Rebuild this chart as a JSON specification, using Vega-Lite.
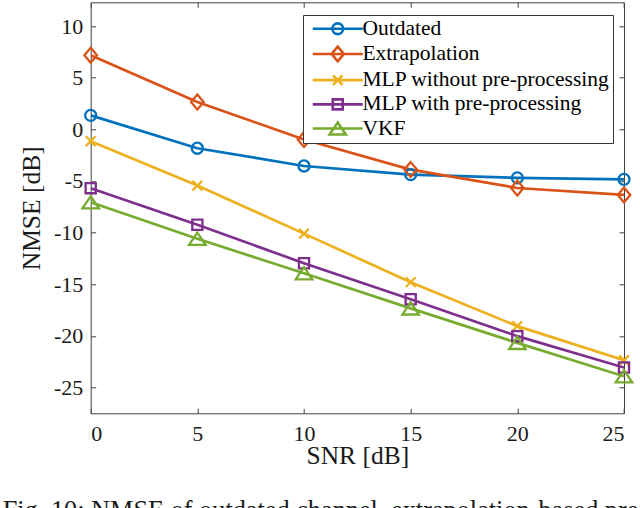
{
  "$schema": "https://vega.github.io/schema/vega-lite/v6.json",
  "autosize": "none",
  "width": 533.3,
  "height": 411,
  "padding": {"left": 90.7, "top": 2.3, "right": 15.999, "bottom": 94.7},
  "background": "white",
  "config": {
    "view": {"stroke": null},
    "font": "Liberation Serif",
    "axis": {"grid": false, "domainColor": "#404040", "tickColor": "#404040", "domainWidth": 1, "tickWidth": 1, "labelColor": "#1a1a1a", "titleColor": "#1a1a1a", "labelFont": "Liberation Serif", "titleFont": "Liberation Serif", "labelFontSize": 22, "titleFontSize": 25.5, "titleFontWeight": "normal"},
    "legend": {"orient": "none", "legendX": 212.3, "legendY": 12.7, "padding": 3, "rowPadding": 1.2, "symbolOffset": 21, "labelOffset": 14, "labelLimit": 500, "labelFontSize": 21.5, "labelFont": "Liberation Serif", "labelColor": "#000000", "strokeColor": "#333333", "fillColor": "white", "symbolSize": 144, "symbolStrokeWidth": 2.6, "symbolOpacity": 1, "symbolFillColor": "transparent"}
  },
  "title": {"text": "Fig. 10: NMSE of outdated channel, extrapolation-based prediction, MLP and VKF", "orient": "bottom", "anchor": "start", "frame": "group", "dx": -88, "offset": 29, "fontSize": 26.3, "fontWeight": "normal", "font": "Liberation Serif", "color": "#1a1a1a"},
  "data": {"values": [
    {"snr": 0, "nmse": 1.35, "method": "Outdated"},
    {"snr": 5, "nmse": -1.83, "method": "Outdated"},
    {"snr": 10, "nmse": -3.55, "method": "Outdated"},
    {"snr": 15, "nmse": -4.38, "method": "Outdated"},
    {"snr": 20, "nmse": -4.7, "method": "Outdated"},
    {"snr": 25, "nmse": -4.85, "method": "Outdated"},
    {"snr": 0, "nmse": 7.18, "method": "Extrapolation"},
    {"snr": 5, "nmse": 2.64, "method": "Extrapolation"},
    {"snr": 10, "nmse": -0.98, "method": "Extrapolation"},
    {"snr": 15, "nmse": -3.9, "method": "Extrapolation"},
    {"snr": 20, "nmse": -5.68, "method": "Extrapolation"},
    {"snr": 25, "nmse": -6.35, "method": "Extrapolation"},
    {"snr": 0, "nmse": -1.15, "method": "MLP without pre-processing"},
    {"snr": 5, "nmse": -5.45, "method": "MLP without pre-processing"},
    {"snr": 10, "nmse": -10.1, "method": "MLP without pre-processing"},
    {"snr": 15, "nmse": -14.8, "method": "MLP without pre-processing"},
    {"snr": 20, "nmse": -19.06, "method": "MLP without pre-processing"},
    {"snr": 25, "nmse": -22.36, "method": "MLP without pre-processing"},
    {"snr": 0, "nmse": -5.7, "method": "MLP with pre-processing"},
    {"snr": 5, "nmse": -9.24, "method": "MLP with pre-processing"},
    {"snr": 10, "nmse": -12.97, "method": "MLP with pre-processing"},
    {"snr": 15, "nmse": -16.46, "method": "MLP with pre-processing"},
    {"snr": 20, "nmse": -20.03, "method": "MLP with pre-processing"},
    {"snr": 25, "nmse": -23.07, "method": "MLP with pre-processing"},
    {"snr": 0, "nmse": -7.07, "method": "VKF"},
    {"snr": 5, "nmse": -10.6, "method": "VKF"},
    {"snr": 10, "nmse": -13.94, "method": "VKF"},
    {"snr": 15, "nmse": -17.34, "method": "VKF"},
    {"snr": 20, "nmse": -20.68, "method": "VKF"},
    {"snr": 25, "nmse": -23.92, "method": "VKF"}
  ]},
  "resolve": {"axis": {"x": "independent", "y": "independent"}},
  "layer": [
    {
      "mark": {"type": "line", "strokeWidth": 2.7, "clip": true},
      "encoding": {
        "x": {"field": "snr", "type": "quantitative", "scale": {"domain": [0, 25], "nice": false, "zero": false},
              "axis": {"orient": "bottom", "title": "SNR [dB]", "values": [0, 5, 10, 15, 20, 25], "tickSize": -5, "labelPadding": 15, "titlePadding": -1, "labelExpr": "toString(datum.value)"}},
        "y": {"field": "nmse", "type": "quantitative", "scale": {"domain": [-27.5, 12.3], "nice": false, "zero": false},
              "axis": {"orient": "left", "title": "NMSE [dB]", "values": [-25, -20, -15, -10, -5, 0, 5, 10], "tickSize": -5, "labelPadding": 13, "titlePadding": 9, "labelExpr": "toString(datum.value)"}},
        "color": {"field": "method", "type": "nominal", "legend": {"title": null, "symbolStrokeWidth": 2.6},
                  "scale": {"domain": ["Outdated", "Extrapolation", "MLP without pre-processing", "MLP with pre-processing", "VKF"],
                            "range": ["#0072BD", "#D95319", "#EDB120", "#7E2F8E", "#77AC30"]}}
      }
    },
    {
      "transform": [{"filter": "datum.method == 'Outdated'"}],
      "mark": {"type": "point", "filled": false, "size": 150, "strokeWidth": 2.3, "opacity": 1, "shape": "M0.9,0A0.9,0.9 0 1,1 -0.9,0A0.9,0.9 0 1,1 0.9,0Z"},
      "encoding": {
        "x": {"field": "snr", "type": "quantitative", "axis": {"orient": "top", "labels": false, "title": null, "values": [0, 5, 10, 15, 20, 25], "tickSize": -5}},
        "y": {"field": "nmse", "type": "quantitative", "axis": {"orient": "right", "labels": false, "title": null, "values": [-25, -20, -15, -10, -5, 0, 5, 10], "tickSize": -5}},
        "color": {"field": "method", "type": "nominal", "legend": {"title": null, "symbolStrokeWidth": 2.6}}
      }
    },
    {
      "transform": [{"filter": "datum.method == 'Extrapolation'"}],
      "mark": {"type": "point", "filled": false, "size": 150, "strokeWidth": 2.3, "opacity": 1, "shape": "M0,-1.22L1.03,0L0,1.22L-1.03,0Z"},
      "encoding": {
        "x": {"field": "snr", "type": "quantitative", "axis": null},
        "y": {"field": "nmse", "type": "quantitative", "axis": null},
        "color": {"field": "method", "type": "nominal", "legend": {"title": null, "symbolStrokeWidth": 2.6}}
      }
    },
    {
      "transform": [{"filter": "datum.method == 'MLP without pre-processing'"}],
      "mark": {"type": "point", "filled": false, "size": 150, "strokeWidth": 2.3, "opacity": 1, "shape": "M-0.8,-0.8L0.8,0.8M0.8,-0.8L-0.8,0.8"},
      "encoding": {
        "x": {"field": "snr", "type": "quantitative", "axis": null},
        "y": {"field": "nmse", "type": "quantitative", "axis": null},
        "color": {"field": "method", "type": "nominal", "legend": {"title": null, "symbolStrokeWidth": 2.6}}
      }
    },
    {
      "transform": [{"filter": "datum.method == 'MLP with pre-processing'"}],
      "mark": {"type": "point", "filled": false, "size": 150, "strokeWidth": 2.3, "opacity": 1, "shape": "M-0.83,-0.83H0.83V0.83H-0.83Z"},
      "encoding": {
        "x": {"field": "snr", "type": "quantitative", "axis": null},
        "y": {"field": "nmse", "type": "quantitative", "axis": null},
        "color": {"field": "method", "type": "nominal", "legend": {"title": null, "symbolStrokeWidth": 2.6}}
      }
    },
    {
      "transform": [{"filter": "datum.method == 'VKF'"}],
      "mark": {"type": "point", "filled": false, "size": 150, "strokeWidth": 2.3, "opacity": 1, "shape": "M0,-1L1.35,1H-1.35Z"},
      "encoding": {
        "x": {"field": "snr", "type": "quantitative", "axis": null},
        "y": {"field": "nmse", "type": "quantitative", "axis": null},
        "color": {"field": "method", "type": "nominal", "legend": {"title": null, "symbolStrokeWidth": 2.6}}
      }
    },
    {
      "transform": [{"filter": "false"}],
      "mark": {"type": "point", "filled": false, "size": 144, "strokeWidth": 2.6},
      "encoding": {
        "x": {"field": "snr", "type": "quantitative", "axis": null},
        "y": {"field": "nmse", "type": "quantitative", "axis": null},
        "color": {"field": "method", "type": "nominal", "legend": {"title": null, "symbolStrokeWidth": 2.6}},
        "shape": {"field": "method", "type": "nominal",
                  "scale": {"domain": ["Outdated", "Extrapolation", "MLP without pre-processing", "MLP with pre-processing", "VKF"],
                            "range": ["M-4.17,0H4.17M0.9,0A0.9,0.9 0 1,1 -0.9,0A0.9,0.9 0 1,1 0.9,0", "M-4.17,0H4.17M0,-1.22L1.03,0L0,1.22L-1.03,0Z", "M-4.17,0H4.17M-0.8,-0.8L0.8,0.8M0.8,-0.8L-0.8,0.8", "M-4.17,0H4.17M-0.83,-0.83H0.83V0.83H-0.83Z", "M-4.17,0H4.17M0,-1L1.35,1H-1.35Z"]},
                  "legend": {"title": null, "symbolStrokeWidth": 2.6}}
      }
    }
  ]
}
